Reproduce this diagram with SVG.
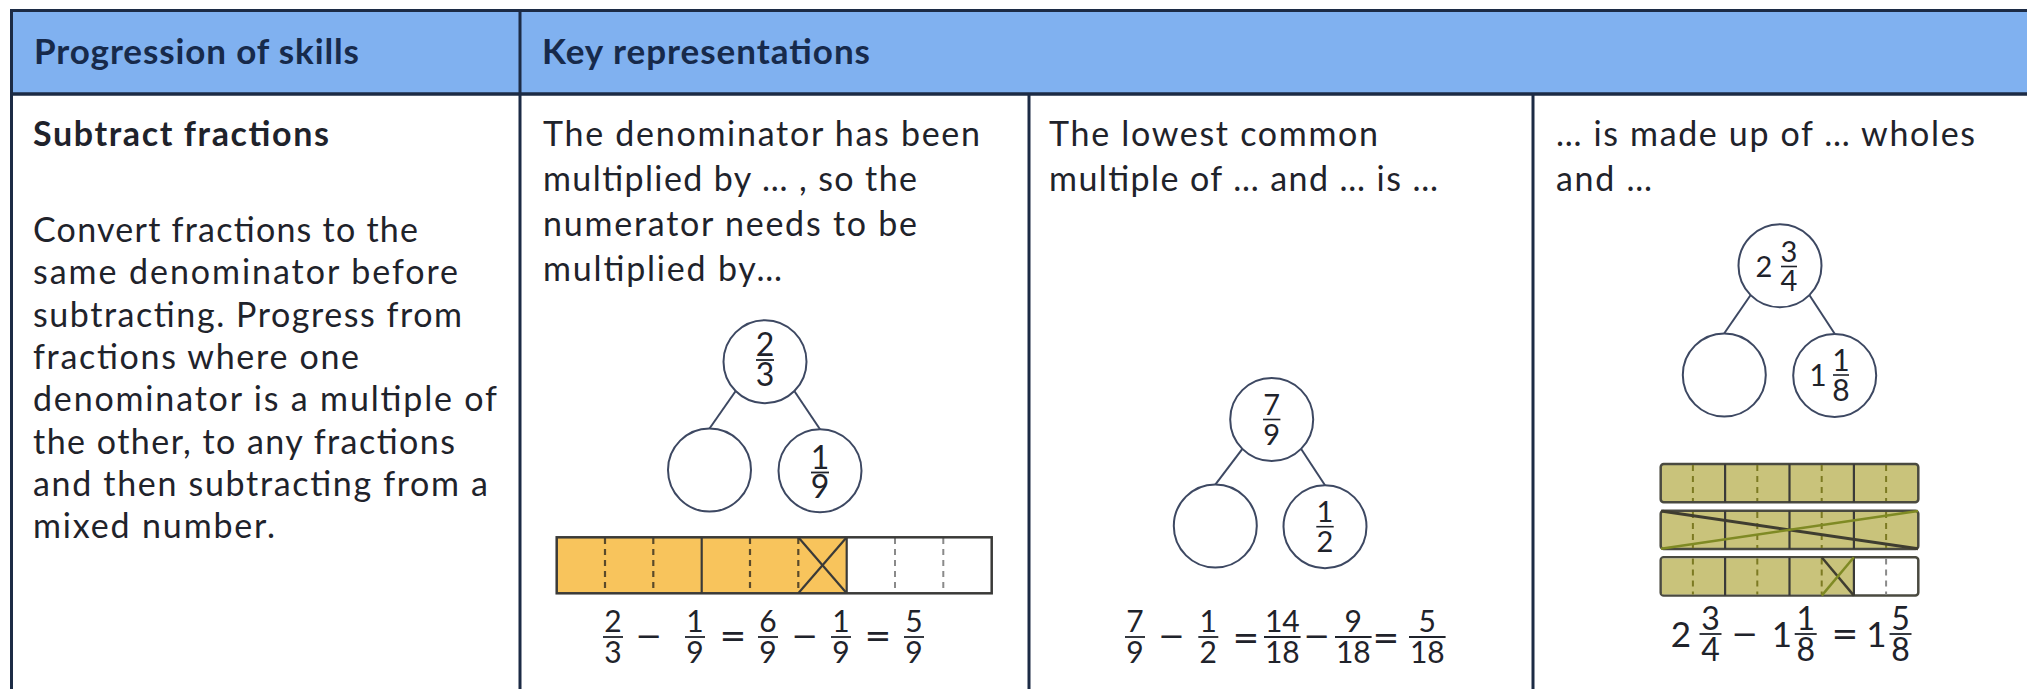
<svg xmlns="http://www.w3.org/2000/svg" width="2027" height="689" viewBox="0 0 2027 689">
<defs>
<style>
.hdr{font-family:Lato,"Liberation Sans",sans-serif;font-weight:bold;font-size:35px;fill:#172a4b}
.tx{font-family:Lato,"Liberation Sans",sans-serif;font-size:34px;fill:#1f232b}
.tb{font-family:Lato,"Liberation Sans",sans-serif;font-weight:bold;font-size:34px;fill:#1f232b}
.n{font-family:Lato,"Liberation Sans",sans-serif;fill:#1f232b;text-anchor:middle}
.op{font-family:"DejaVu Sans",sans-serif;fill:#1f232b;text-anchor:middle;font-size:32px}
.fb{stroke:#1f232b;stroke-width:1.8}
.grid{stroke:#1c2b45;stroke-width:3;fill:none}
.node{fill:#fff;stroke:#3d4862;stroke-width:2}
.conn{stroke:#3d4862;stroke-width:2}
.dsh{stroke:#5a4a2a;stroke-width:2.2;stroke-dasharray:6 5}
.dshw{stroke:#8a8a8a;stroke-width:2;stroke-dasharray:6 5}
.dsho{stroke:#7c7a22;stroke-width:2;stroke-dasharray:6 5}
.sol{stroke:#3a3a38;stroke-width:2.2}
</style>
</defs>
<rect width="2027" height="689" fill="#fff"/>
<g id="table">
<rect x="12" y="10" width="2015" height="84" fill="#80b1f0"/>
<line class="grid" x1="10" y1="10.5" x2="2027" y2="10.5"/>
<line class="grid" x1="10" y1="94" x2="2027" y2="94" style="stroke-width:3.5"/>
<line class="grid" x1="11.5" y1="9" x2="11.5" y2="689"/>
<line class="grid" x1="520" y1="9" x2="520" y2="689"/>
<line class="grid" x1="1029" y1="94" x2="1029" y2="689"/>
<line class="grid" x1="1533" y1="94" x2="1533" y2="689"/>
</g>
<g id="header-skills"><text class="hdr" x="34" y="64" textLength="325">Progression of skills</text></g>
<g id="header-representations"><text class="hdr" x="542" y="64" textLength="328">Key representations</text></g>
<g id="cell-skills">
<text class="tb" x="33" y="145.5" textLength="296">Subtract fractions</text>
<text class="tx" x="33" y="242" textLength="385">Convert fractions to the</text>
<text class="tx" x="33" y="284.3" textLength="425">same denominator before</text>
<text class="tx" x="33" y="326.6" textLength="429">subtracting. Progress from</text>
<text class="tx" x="33" y="368.9" textLength="326">fractions where one</text>
<text class="tx" x="33" y="411.2" textLength="464">denominator is a multiple of</text>
<text class="tx" x="33" y="453.5" textLength="422">the other, to any fractions</text>
<text class="tx" x="33" y="495.8" textLength="455">and then subtracting from a</text>
<text class="tx" x="33" y="538.1" textLength="242">mixed number.</text>
</g>
<g id="cell-rep1">
<text class="tx" x="543" y="145.5" textLength="437">The denominator has been</text>
<text class="tx" x="543" y="191" textLength="374">multiplied by … , so the</text>
<text class="tx" x="543" y="235.5" textLength="374">numerator needs to be</text>
<text class="tx" x="543" y="280.5" textLength="239">multiplied by…</text>
</g>
<g id="cell-rep2">
<text class="tx" x="1049" y="145.5" textLength="329">The lowest common</text>
<text class="tx" x="1049" y="191" textLength="389">multiple of … and … is …</text>
</g>
<g id="cell-rep3">
<text class="tx" x="1556" y="145.5" textLength="419">… is made up of … wholes</text>
<text class="tx" x="1556" y="191" textLength="96">and …</text>
</g>
<g id="connectors">
<line class="conn" x1="735.7" y1="391" x2="709.5" y2="428.5"/>
<line class="conn" x1="794.3" y1="391" x2="820" y2="429.2"/>
<line class="conn" x1="1242.4" y1="448.8" x2="1215.3" y2="484.6"/>
<line class="conn" x1="1301" y1="448.8" x2="1325" y2="485.3"/>
<line class="conn" x1="1750.5" y1="295.3" x2="1724.3" y2="333.3"/>
<line class="conn" x1="1809.5" y1="295.3" x2="1834.7" y2="333.8"/>
</g>
<g id="node-2-3">
<circle class="node" cx="765" cy="361.7" r="41.5"/>
<text class="n" font-size="32"><tspan x="765" y="356">2</tspan><tspan x="765" y="386">3</tspan></text>
<line class="fb" x1="756" y1="360" x2="774" y2="360"/>
</g>
<g id="node-blank-1"><circle class="node" cx="709.5" cy="470" r="41.5"/></g>
<g id="node-1-9">
<circle class="node" cx="820" cy="470.7" r="41.5"/>
<text class="n" font-size="32"><tspan x="820" y="468.5">1</tspan><tspan x="820" y="498">9</tspan></text>
<line class="fb" x1="811" y1="472.5" x2="829" y2="472.5"/>
</g>
<g id="bar-ninths">
<rect x="556.7" y="537.3" width="290" height="56" fill="#f8c45c"/>
<rect x="846.7" y="537.3" width="145" height="56" fill="#fff"/>
<line class="dsh" x1="605" y1="538" x2="605" y2="593"/>
<line class="dsh" x1="653.3" y1="538" x2="653.3" y2="593"/>
<line class="dsh" x1="750" y1="538" x2="750" y2="593"/>
<line class="dsh" x1="798.3" y1="538" x2="798.3" y2="593"/>
<line class="dshw" x1="895" y1="538" x2="895" y2="593"/>
<line class="dshw" x1="943.3" y1="538" x2="943.3" y2="593"/>
<line class="sol" x1="701.7" y1="537.3" x2="701.7" y2="593.3"/>
<line class="sol" x1="846.7" y1="537.3" x2="846.7" y2="593.3"/>
<line class="sol" x1="798.3" y1="537.3" x2="846.7" y2="593.3"/>
<line class="sol" x1="798.3" y1="593.3" x2="846.7" y2="537.3"/>
<rect x="556.7" y="537.3" width="435" height="56" fill="none" stroke="#3a3a38" stroke-width="2.5"/>
</g>
<g id="eq-1">
<text class="n" font-size="30"><tspan x="613" y="632">2</tspan><tspan x="613" y="662.6">3</tspan></text><line class="fb" x1="603" y1="637" x2="623" y2="637"/>
<text class="op" x="649" y="647.3">−</text>
<text class="n" font-size="30"><tspan x="695" y="632">1</tspan><tspan x="695" y="662.6">9</tspan></text><line class="fb" x1="685" y1="637" x2="705" y2="637"/>
<text class="op" x="733" y="647.3">=</text>
<text class="n" font-size="30"><tspan x="768" y="632">6</tspan><tspan x="768" y="662.6">9</tspan></text><line class="fb" x1="758" y1="637" x2="778" y2="637"/>
<text class="op" x="805" y="647.3">−</text>
<text class="n" font-size="30"><tspan x="841" y="632">1</tspan><tspan x="841" y="662.6">9</tspan></text><line class="fb" x1="831" y1="637" x2="851" y2="637"/>
<text class="op" x="878" y="647.3">=</text>
<text class="n" font-size="30"><tspan x="914" y="632">5</tspan><tspan x="914" y="662.6">9</tspan></text><line class="fb" x1="904" y1="637" x2="924" y2="637"/>
</g>
<g id="node-7-9">
<circle class="node" cx="1271.7" cy="419.5" r="41.5"/>
<text class="n" font-size="29"><tspan x="1271.7" y="415">7</tspan><tspan x="1271.7" y="444.5">9</tspan></text>
<line class="fb" x1="1263" y1="419.5" x2="1280.4" y2="419.5" style="stroke-width:1.6"/>
</g>
<g id="node-blank-2"><circle class="node" cx="1215.3" cy="526" r="41.5"/></g>
<g id="node-1-2">
<circle class="node" cx="1325" cy="526.7" r="41.5"/>
<text class="n" font-size="29"><tspan x="1325" y="522">1</tspan><tspan x="1325" y="551.5">2</tspan></text>
<line class="fb" x1="1316.3" y1="526.7" x2="1333.7" y2="526.7" style="stroke-width:1.6"/>
</g>
<g id="eq-2">
<text class="n" font-size="30"><tspan x="1135" y="632">7</tspan><tspan x="1135" y="662.6">9</tspan></text><line class="fb" x1="1125" y1="637" x2="1145" y2="637"/>
<text class="op" x="1171.7" y="647.3">−</text>
<text class="n" font-size="30"><tspan x="1208.3" y="632">1</tspan><tspan x="1208.3" y="662.6">2</tspan></text><line class="fb" x1="1198.3" y1="637" x2="1218.3" y2="637"/>
<text class="op" x="1246" y="649">=</text>
<text class="n" font-size="30"><tspan x="1282.3" y="632">14</tspan><tspan x="1282.3" y="662.6">18</tspan></text><line class="fb" x1="1264" y1="637" x2="1300.6" y2="637"/>
<text class="op" x="1317" y="647.3">−</text>
<text class="n" font-size="30"><tspan x="1353.3" y="632">9</tspan><tspan x="1353.3" y="662.6">18</tspan></text><line class="fb" x1="1335" y1="637" x2="1371.6" y2="637"/>
<text class="op" x="1386" y="649">=</text>
<text class="n" font-size="30"><tspan x="1427.3" y="632">5</tspan><tspan x="1427.3" y="662.6">18</tspan></text><line class="fb" x1="1409" y1="637" x2="1445.6" y2="637"/>
</g>
<g id="node-2-3-4">
<circle class="node" cx="1780" cy="265.8" r="41.5"/>
<text class="n" font-size="29"><tspan x="1764" y="277">2</tspan><tspan x="1789" y="262">3</tspan><tspan x="1789" y="291.4">4</tspan></text>
<line class="fb" x1="1781" y1="266.5" x2="1797" y2="266.5" style="stroke-width:1.6"/>
</g>
<g id="node-blank-3"><circle class="node" cx="1724.3" cy="375" r="41.5"/></g>
<g id="node-1-1-8">
<circle class="node" cx="1834.7" cy="375.5" r="41.5"/>
<text class="n" font-size="30"><tspan x="1818" y="386">1</tspan><tspan x="1841" y="371">1</tspan><tspan x="1841" y="400.6">8</tspan></text>
<line class="fb" x1="1833" y1="375" x2="1849" y2="375" style="stroke-width:1.6"/>
</g>
<g id="bar-eighths">
<rect x="1660.7" y="464" width="257.6" height="38.3" rx="3" fill="#c9c37b" stroke="#4a4a40" stroke-width="2.5"/>
<rect x="1660.7" y="510.7" width="257.6" height="38.3" rx="3" fill="#c9c37b" stroke="#4a4a40" stroke-width="2.5"/>
<rect x="1660.7" y="557.3" width="257.6" height="38.3" rx="3" fill="#fff" stroke="#4a4a40" stroke-width="2.5"/>
<rect x="1661.9" y="558.5" width="192" height="35.9" fill="#c9c37b"/>
<g class="sol">
<line x1="1725.1" y1="464" x2="1725.1" y2="502.3"/><line x1="1789.5" y1="464" x2="1789.5" y2="502.3"/><line x1="1853.9" y1="464" x2="1853.9" y2="502.3"/>
<line x1="1725.1" y1="510.7" x2="1725.1" y2="549"/><line x1="1789.5" y1="510.7" x2="1789.5" y2="549"/><line x1="1853.9" y1="510.7" x2="1853.9" y2="549"/>
<line x1="1725.1" y1="557.3" x2="1725.1" y2="595.6"/><line x1="1789.5" y1="557.3" x2="1789.5" y2="595.6"/><line x1="1853.9" y1="557.3" x2="1853.9" y2="595.6"/>
</g>
<g class="dsho">
<line x1="1692.9" y1="465" x2="1692.9" y2="501"/><line x1="1757.3" y1="465" x2="1757.3" y2="501"/><line x1="1821.7" y1="465" x2="1821.7" y2="501"/><line x1="1886.1" y1="465" x2="1886.1" y2="501"/>
<line x1="1692.9" y1="512" x2="1692.9" y2="548"/><line x1="1757.3" y1="512" x2="1757.3" y2="548"/><line x1="1821.7" y1="512" x2="1821.7" y2="548"/><line x1="1886.1" y1="512" x2="1886.1" y2="548"/>
<line x1="1692.9" y1="558.5" x2="1692.9" y2="594.5"/><line x1="1757.3" y1="558.5" x2="1757.3" y2="594.5"/><line x1="1821.7" y1="558.5" x2="1821.7" y2="594.5"/>
</g>
<line class="dshw" x1="1886.1" y1="558.5" x2="1886.1" y2="594.5"/>
<line x1="1661" y1="511" x2="1918" y2="548.7" stroke="#3f3d30" stroke-width="3"/>
<line x1="1661" y1="548.7" x2="1918" y2="511" stroke="#7f8a24" stroke-width="2.5"/>
<line x1="1821.7" y1="557.3" x2="1853.9" y2="595.6" stroke="#3f3d30" stroke-width="2.5"/>
<line x1="1821.7" y1="595.6" x2="1853.9" y2="557.3" stroke="#7f8a24" stroke-width="2.5"/>
</g>
<g id="eq-3">
<text class="n" font-size="35" x="1681" y="646.5">2</text>
<text class="n" font-size="32"><tspan x="1710.5" y="629.5">3</tspan><tspan x="1710.5" y="661">4</tspan></text><line class="fb" x1="1699.5" y1="634" x2="1721.5" y2="634"/>
<text class="op" x="1745" y="645" font-size="34">−</text>
<text class="n" font-size="35" x="1782" y="646.5">1</text>
<text class="n" font-size="32"><tspan x="1805.7" y="629.5">1</tspan><tspan x="1805.7" y="661">8</tspan></text><line class="fb" x1="1794.7" y1="634" x2="1816.7" y2="634"/>
<text class="op" x="1845" y="645" font-size="34">=</text>
<text class="n" font-size="35" x="1876.5" y="646.5">1</text>
<text class="n" font-size="32"><tspan x="1900.5" y="629.5">5</tspan><tspan x="1900.5" y="661">8</tspan></text><line class="fb" x1="1889.5" y1="634" x2="1911.5" y2="634"/>
</g>
</svg>
